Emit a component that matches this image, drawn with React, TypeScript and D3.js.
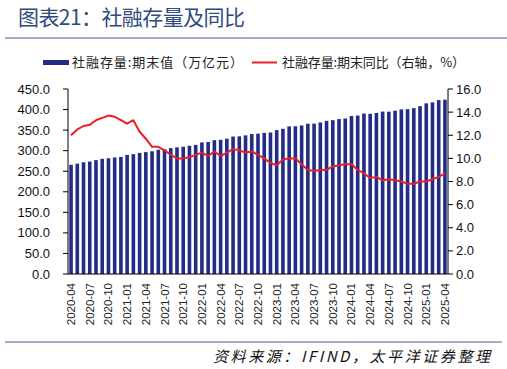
import * as d3 from "d3";
import React from "react";

// months 2020-04 .. 2025-04
const months = d3
  .timeMonths(new Date(2020, 3, 1), new Date(2025, 4, 1))
  .map((d) => d3.timeFormat("%Y-%m")(d));

const tickLabels = [
  "2020-04", "2020-07", "2020-10", "2021-01", "2021-04", "2021-07", "2021-10",
  "2022-01", "2022-04", "2022-07", "2022-10", "2023-01", "2023-04", "2023-07",
  "2023-10", "2024-01", "2024-04", "2024-07", "2024-10", "2025-01", "2025-04",
];

// 社融存量:期末值（万亿元）
const stock = [
  265.6, 268.4, 271.8, 273.5, 277.0, 280.1, 281.5, 283.6, 284.8,
  289.7, 291.4, 294.6, 296.4, 298.6, 302.3, 303.6, 306.1, 308.0, 309.5, 311.9, 314.1,
  320.0, 321.0, 325.6, 326.5, 329.2, 334.3, 334.9, 337.2, 340.6, 341.4, 343.2, 344.2,
  350.0, 353.2, 359.0, 359.4, 361.4, 365.5, 365.8, 368.6, 372.5, 374.2, 376.8, 378.1,
  384.4, 385.5, 390.3, 389.6, 391.6, 395.1, 394.9, 397.2, 400.4, 400.9, 403.4, 408.3,
  415.1, 417.5, 423.0, 424.0,
];

// 社融存量:期末同比（%）
const yoy = [
  12.0, 12.5, 12.8, 12.9, 13.3, 13.5, 13.7, 13.6, 13.3,
  13.0, 13.3, 12.3, 11.7, 11.0, 11.0, 10.7, 10.3, 10.0, 10.0, 10.1, 10.3,
  10.5, 10.2, 10.6, 10.2, 10.5, 10.8, 10.7, 10.5, 10.6, 10.3, 10.0, 9.6,
  9.4, 9.9, 10.0, 10.0, 9.5, 9.0, 8.9, 9.0, 9.0, 9.3, 9.4, 9.5,
  9.5, 9.0, 8.7, 8.3, 8.4, 8.1, 8.2, 8.1, 8.0, 7.8, 7.8, 8.0,
  8.0, 8.2, 8.4, 8.7,
];

const leftTicks = [0, 50, 100, 150, 200, 250, 300, 350, 400, 450];
const rightTicks = [0, 2, 4, 6, 8, 10, 12, 14, 16];

const W = 507;
const H = 369;
const left = 68;
const right = 448;
const top = 89;
const bottom = 274;

const BAR = "#242D86";
const LINE = "#EE1C25";
const RULE = "#8C8CC0";
const NUM_FONT = "'Liberation Sans', Arial, sans-serif";
const CJK_FONT = "'Noto Sans CJK SC', sans-serif";

export default function App() {
  const x = d3.scaleBand<string>().domain(months).range([left, right]).paddingInner(0.42).paddingOuter(0.2);
  const yL = d3.scaleLinear().domain([0, 450]).range([bottom, top]);
  const yR = d3.scaleLinear().domain([0, 16]).range([bottom, top]);

  const line = d3
    .line<number>()
    .x((d, i) => (x(months[i]) as number) + x.bandwidth() / 2)
    .y((d) => yR(d));

  return (
    <svg width={W} height={H} style={{ position: "absolute", left: 0, top: 0, background: "#fff" }}>
      {/* title */}
      <text x={18} y={25} fontFamily={CJK_FONT} fontSize={21} fill="#2F4B7C" textLength={227} lengthAdjust="spacing">
        图表21：社融存量及同比
      </text>
      <line x1={5} x2={507} y1={38} y2={38} stroke={RULE} strokeWidth={1.5} />

      {/* legend */}
      <rect x={43} y={60} width={26} height={5} fill={BAR} />
      <text x={72} y={67} fontFamily={CJK_FONT} fontSize={13} fill="#222" textLength={171} lengthAdjust="spacing">
        社融存量:期末值（万亿元）
      </text>
      <line x1={252} x2={277} y1={62.5} y2={62.5} stroke={LINE} strokeWidth={2} />
      <text x={282} y={67} fontFamily={CJK_FONT} fontSize={13} fill="#222" textLength={183} lengthAdjust="spacing">
        社融存量:期末同比（右轴，%）
      </text>

      {/* bars */}
      {stock.map((v, i) => (
        <rect key={i} x={x(months[i])} y={yL(v)} width={x.bandwidth()} height={bottom - yL(v)} fill={BAR} />
      ))}

      {/* line */}
      <path d={line(yoy) as string} fill="none" stroke={LINE} strokeWidth={2} strokeLinejoin="round" />

      {/* left axis */}
      <line x1={left} x2={left} y1={top} y2={bottom} stroke="#000" />
      {leftTicks.map((t) => (
        <g key={t}>
          <line x1={left - 5} x2={left} y1={yL(t)} y2={yL(t)} stroke="#000" />
          <text x={50} y={yL(t) + 4.5} textAnchor="end" fontFamily={NUM_FONT} fontSize={13} fill="#111">
            {t.toFixed(1)}
          </text>
        </g>
      ))}

      {/* right axis */}
      <line x1={right} x2={right} y1={top} y2={bottom} stroke="#000" />
      {rightTicks.map((t) => (
        <g key={t}>
          <line x1={right} x2={right + 5} y1={yR(t)} y2={yR(t)} stroke="#000" />
          <text x={456} y={yR(t) + 4.5} fontFamily={NUM_FONT} fontSize={13} fill="#111">
            {t.toFixed(1)}
          </text>
        </g>
      ))}

      {/* bottom axis */}
      <line x1={left} x2={right} y1={bottom} y2={bottom} stroke="#000" strokeWidth={1.2} />
      {tickLabels.map((m) => {
        const cx = (x(m) as number) + x.bandwidth() / 2;
        return (
          <text
            key={m}
            transform={`translate(${cx + 4},283) rotate(-90)`}
            textAnchor="end"
            fontFamily={NUM_FONT}
            fontSize={11.5}
            fill="#222"
          >
            {m}
          </text>
        );
      })}

      {/* source */}
      <line x1={5} x2={502} y1={342} y2={342} stroke={RULE} strokeWidth={1.5} />
      <text
        x={490}
        y={362}
        textAnchor="end"
        fontFamily={CJK_FONT}
        fontSize={15}
        fontStyle="italic"
        fill="#111"
        textLength={277}
        lengthAdjust="spacing"
      >
        资料来源：IFIND，太平洋证券整理
      </text>
    </svg>
  );
}
